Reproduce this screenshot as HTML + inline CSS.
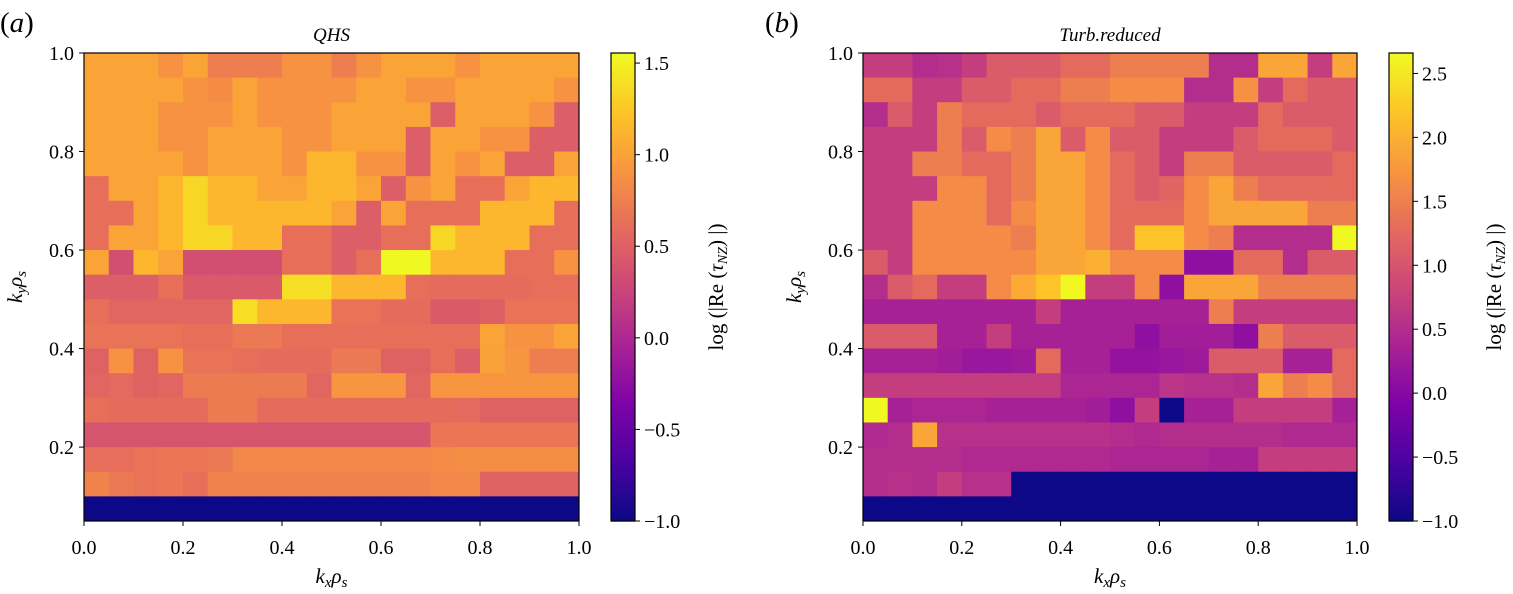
<!DOCTYPE html>
<html><head><meta charset="utf-8"><style>
body{margin:0;background:#fff;}
svg text{font-family:"Liberation Serif",serif;fill:#000;}
</style></head><body>
<svg id="fig" width="1513" height="589" viewBox="0 0 1513 589" xmlns="http://www.w3.org/2000/svg"></svg>
<script>
const kxCategories=[0.025,0.075,0.125,0.175,0.225,0.275,0.325,0.375,0.425,0.475,0.525,0.575,0.625,0.675,0.725,0.775,0.825,0.875,0.925,0.975];
const kyCategories=[0.975,0.925,0.875,0.825,0.775,0.725,0.675,0.625,0.575,0.525,0.475,0.425,0.375,0.325,0.275,0.225,0.175,0.125,0.075];
const xTickLabels=["0.0","0.2","0.4","0.6","0.8","1.0"];
const yTickLabels=["0.2","0.4","0.6","0.8","1.0"];
const cbTicksA=["1.5","1.0","0.5","0.0","\u22120.5","\u22121.0"];
const cbTicksB=["2.5","2.0","1.5","1.0","0.5","0.0","\u22120.5","\u22121.0"];
const valuesQHS=[
[1.02,1.02,1.02,0.89,1.02,0.74,0.74,0.74,0.89,0.89,0.74,0.89,1.02,1.02,1.02,0.89,1.02,1.02,1.02,1.02],
[1.02,1.02,1.02,1.02,0.89,0.85,1.02,0.89,0.89,0.89,0.89,1.02,1.02,0.89,0.89,1.02,1.02,1.02,1.02,0.89],
[1.02,1.02,1.02,0.89,0.89,0.89,1.02,0.89,0.89,0.89,1.02,1.02,1.02,1.02,0.48,1.02,1.02,1.02,0.89,0.48],
[1.02,1.02,1.02,0.89,0.89,1.02,1.02,1.02,0.89,0.89,1.02,1.02,1.02,0.48,1.02,1.02,0.89,0.89,0.48,0.48],
[1.02,1.02,1.02,1.02,0.89,1.02,1.02,1.02,0.89,1.15,1.15,0.89,0.89,0.48,1.02,0.89,1.02,0.48,0.48,1.02],
[0.63,1.02,1.02,1.15,1.35,1.15,1.15,1.02,1.02,1.15,1.15,1.02,0.48,0.89,1.02,0.63,0.63,1.02,1.15,1.15],
[0.63,0.63,1.02,1.15,1.35,1.15,1.15,1.15,1.15,1.15,1.02,0.48,1.02,0.63,0.63,0.63,1.15,1.15,1.15,0.63],
[0.63,1.02,1.02,1.15,1.35,1.35,1.15,1.15,0.63,0.63,0.48,0.48,0.63,0.63,1.35,1.15,1.15,1.15,0.63,0.63],
[1.02,0.35,1.15,1.02,0.35,0.35,0.35,0.35,0.63,0.63,0.48,0.63,1.55,1.55,1.15,1.15,1.15,0.63,0.63,0.89],
[0.48,0.48,0.48,0.63,0.45,0.45,0.45,0.45,1.4,1.4,1.15,1.15,1.15,0.63,0.6,0.6,0.6,0.6,0.63,0.63],
[0.63,0.55,0.55,0.55,0.55,0.55,1.4,1.15,1.15,1.15,0.66,0.66,0.6,0.6,0.45,0.45,0.5,0.66,0.66,0.66],
[0.66,0.66,0.66,0.66,0.63,0.63,0.7,0.7,0.63,0.63,0.63,0.63,0.63,0.63,0.63,0.63,1.02,0.89,0.89,1.02],
[0.52,0.89,0.52,0.89,0.66,0.66,0.63,0.6,0.6,0.6,0.7,0.7,0.52,0.52,0.63,0.48,1.0,0.92,0.74,0.74],
[0.55,0.58,0.52,0.55,0.72,0.72,0.72,0.72,0.72,0.55,0.92,0.92,0.92,0.55,0.92,0.92,0.92,0.92,0.92,0.92],
[0.63,0.6,0.6,0.6,0.6,0.72,0.72,0.6,0.6,0.6,0.6,0.6,0.6,0.6,0.6,0.58,0.52,0.52,0.52,0.52],
[0.4,0.4,0.4,0.4,0.4,0.4,0.4,0.4,0.4,0.4,0.4,0.4,0.4,0.4,0.68,0.68,0.68,0.68,0.68,0.68],
[0.62,0.62,0.66,0.68,0.68,0.7,0.82,0.82,0.82,0.82,0.82,0.82,0.82,0.82,0.84,0.86,0.86,0.86,0.86,0.86],
[0.78,0.7,0.66,0.68,0.63,0.78,0.78,0.78,0.78,0.78,0.78,0.78,0.78,0.78,0.82,0.82,0.52,0.52,0.52,0.52],
[-1,-1,-1,-1,-1,-1,-1,-1,-1,-1,-1,-1,-1,-1,-1,-1,-1,-1,-1,-1]];
const valuesTurb=[
[0.72,0.72,0.5,0.55,0.72,1.08,1.08,1.08,1.27,1.27,1.49,1.49,1.49,1.49,0.5,0.5,1.9,1.9,0.72,1.9],
[1.27,1.27,0.72,0.72,1.08,1.08,1.27,1.27,1.49,1.49,1.64,1.64,1.64,0.5,0.5,1.7,0.72,1.27,1.08,1.08],
[0.5,1.08,0.72,1.49,1.27,1.27,1.27,1.08,1.27,1.27,1.27,1.08,1.08,0.72,0.72,0.72,1.27,1.08,1.08,1.08],
[0.72,0.72,0.72,1.49,1.08,1.64,1.49,1.9,1.08,1.64,1.08,1.08,0.72,0.72,0.72,1.08,1.27,1.27,1.27,1.08],
[0.72,0.72,1.49,1.49,1.27,1.27,1.49,1.9,1.9,1.64,1.27,1.08,0.72,1.49,1.49,1.08,1.08,1.08,1.08,1.27],
[0.72,0.72,0.72,1.64,1.64,1.27,1.49,1.9,1.9,1.64,1.27,1.08,1.2,1.64,1.9,1.49,1.27,1.27,1.27,1.27],
[0.72,0.72,1.64,1.64,1.64,1.27,1.64,1.9,1.9,1.64,1.27,1.27,1.27,1.64,1.9,1.9,1.9,1.9,1.49,1.49],
[0.72,0.72,1.64,1.64,1.64,1.64,1.49,1.9,1.9,1.64,1.27,2.2,2.2,1.64,1.49,0.5,0.5,0.5,0.5,2.65],
[1.08,0.72,1.64,1.64,1.64,1.64,1.64,1.9,1.9,2.0,1.64,1.64,1.64,0.1,0.1,1.27,1.27,0.5,1.08,1.08],
[0.5,1.08,1.27,0.72,0.72,1.64,1.95,2.2,2.65,0.72,0.72,1.64,0.1,1.9,1.9,1.9,1.49,1.49,1.49,1.49],
[0.35,0.35,0.35,0.35,0.35,0.35,0.35,0.72,0.35,0.35,0.35,0.35,0.35,0.35,1.49,0.72,0.72,0.72,0.72,0.72],
[1.08,1.08,1.08,0.35,0.35,0.72,0.35,0.35,0.35,0.35,0.35,0.1,0.3,0.3,0.3,0.1,1.49,1.08,1.08,1.08],
[0.35,0.35,0.35,0.3,0.2,0.2,0.25,1.27,0.35,0.35,0.15,0.15,0.2,0.25,1.08,1.08,1.08,0.35,0.35,1.27],
[0.72,0.72,0.72,0.72,0.72,0.72,0.72,0.72,0.4,0.4,0.4,0.4,0.6,0.55,0.55,0.5,1.9,1.49,1.64,1.27],
[2.65,0.35,0.4,0.4,0.4,0.35,0.35,0.35,0.35,0.3,0.1,0.72,-1,0.35,0.35,0.72,0.72,0.72,0.72,0.35],
[0.45,0.5,1.9,0.55,0.55,0.55,0.55,0.55,0.55,0.55,0.5,0.45,0.5,0.5,0.5,0.5,0.5,0.45,0.45,0.45],
[0.5,0.5,0.5,0.5,0.45,0.45,0.45,0.45,0.45,0.45,0.4,0.4,0.4,0.4,0.35,0.35,0.72,0.72,0.72,0.72],
[0.5,0.55,0.5,0.72,0.55,0.55,-1,-1,-1,-1,-1,-1,-1,-1,-1,-1,-1,-1,-1,-1],
[-1,-1,-1,-1,-1,-1,-1,-1,-1,-1,-1,-1,-1,-1,-1,-1,-1,-1,-1,-1]];

const NS="http://www.w3.org/2000/svg";
const svg=document.getElementById('fig');
const stops=[[13,8,135],[76,2,161],[126,3,168],[169,35,149],[204,71,120],[229,107,93],[248,149,64],[253,195,40],[240,249,33]];
function plasma(t){t=Math.max(0,Math.min(1,t));const p=t*8,i=Math.min(7,Math.floor(p)),f=p-i;const a=stops[i],b=stops[i+1];return 'rgb('+a.map((v,k)=>Math.round(v+(b[k]-v)*f)).join(',')+')';}
function el(tag,attrs,parent){const e=document.createElementNS(NS,tag);for(const k in attrs)e.setAttribute(k,attrs[k]);(parent||svg).appendChild(e);return e;}
function txt(s,x,y,size,anchor,parent,extra){const t=el('text',Object.assign({x:x,y:y,'font-size':size,'text-anchor':anchor||'middle'},extra||{}),parent);t.textContent=s;return t;}

function panel(cfg){
  const g=el('g',{});
  
  
  const X0=cfg.x0,X1=cfg.x1,Y0=53,Y1=521;
  const xs=v=>X0+(v-0)*(X1-X0)/1;
  const ys=v=>Y1-(v-0.05)*(Y1-Y0)/0.95;
  const cs=v=>521-(v-cfg.vmin)*(521-53)/(cfg.vmax-cfg.vmin);
  const norm=v=>(v-cfg.vmin)/(cfg.vmax-cfg.vmin);
  cfg.values.forEach((row,r)=>row.forEach((v,c)=>{
    const cx=kxCategories[c],cy=kyCategories[r];
    const x=xs(cx-0.025),x2=xs(cx+0.025),y=ys(cy+0.025),y2=ys(cy-0.025);
    const rc=el('rect',{x:x,y:y,width:x2-x+0.5,height:y2-y+0.5,fill:plasma(norm(v))},g);
    
    
  }));
  el('rect',{x:X0,y:Y0,width:X1-X0,height:Y1-Y0,fill:'none',stroke:'#000','stroke-width':1.2},g);
  xTickLabels.forEach(s=>{const v=parseFloat(s),x=xs(v);
    el('line',{x1:x,x2:x,y1:Y1,y2:Y1+5,stroke:'#000'},g);
    const t=txt(s,x,554,20,'middle',g);});
  yTickLabels.forEach(s=>{const v=parseFloat(s),y=ys(v);
    el('line',{x1:X0-5,x2:X0,y1:y,y2:y,stroke:'#000'},g);
    const t=txt(s,X0-10,y+7,20,'end',g);});
  const xl=el('text',{x:(X0+X1)/2,y:583,'font-size':21,'text-anchor':'middle','font-style':'italic'},g);
  xl.innerHTML='k<tspan font-size="15" dy="4">x</tspan><tspan dy="-4">ρ</tspan><tspan font-size="15" dy="4">s</tspan>';
  
  const yl=el('text',{x:0,y:0,'font-size':21,'text-anchor':'middle','font-style':'italic',transform:'translate('+(X0-62)+',287) rotate(-90)'},g);
  yl.innerHTML='k<tspan font-size="15" dy="4">y</tspan><tspan dy="-4">ρ</tspan><tspan font-size="15" dy="4">s</tspan>';
  
  const ti=txt(cfg.title,(X0+X1)/2,41,19,'middle',g,{'font-style':'italic'});
  
  const lb=el('text',{x:cfg.labelX,y:32,'font-size':29,'text-anchor':'start'},g);
  lb.innerHTML='(<tspan font-style="italic">'+cfg.label+'</tspan>)';
  
  const cb=el('g',{},g);
  
  const CX=cfg.cbx,CW=24;
  for(let i=0;i<117;i++){const y=53+i*4;el('rect',{x:CX,y:y,width:CW,height:4.6,fill:plasma(1-i/116)},cb);}
  el('rect',{x:CX,y:53,width:CW,height:468,fill:'none',stroke:'#000','stroke-width':1.2},cb);
  cfg.cbTicks.forEach(s=>{const v=parseFloat(s.replace('\u2212','-')),y=cs(v);
    el('line',{x1:CX+CW,x2:CX+CW+5,y1:y,y2:y,stroke:'#000'},cb);
    const t=txt(s,CX+CW+9,y+7,20,'start',cb);});
  const cl=el('text',{x:0,y:0,'font-size':21,'text-anchor':'middle',transform:'translate('+(CX+112)+',287) rotate(-90)'},cb);
  cl.innerHTML='log (|Re (<tspan font-style="italic">τ</tspan><tspan font-size="14" dy="4" font-style="italic">NZ</tspan><tspan dy="-4">) |)</tspan>';
  
}
panel({name:'panel-qhs',x0:84,x1:579,values:valuesQHS,vmin:-1,vmax:1.555,title:'QHS',label:'a',labelX:0,cbx:611,cbTicks:cbTicksA});
panel({name:'panel-turb-reduced',x0:863,x1:1357,values:valuesTurb,vmin:-1,vmax:2.66,title:'Turb.reduced',label:'b',labelX:765,cbx:1389,cbTicks:cbTicksB});
</script>
</body></html>
